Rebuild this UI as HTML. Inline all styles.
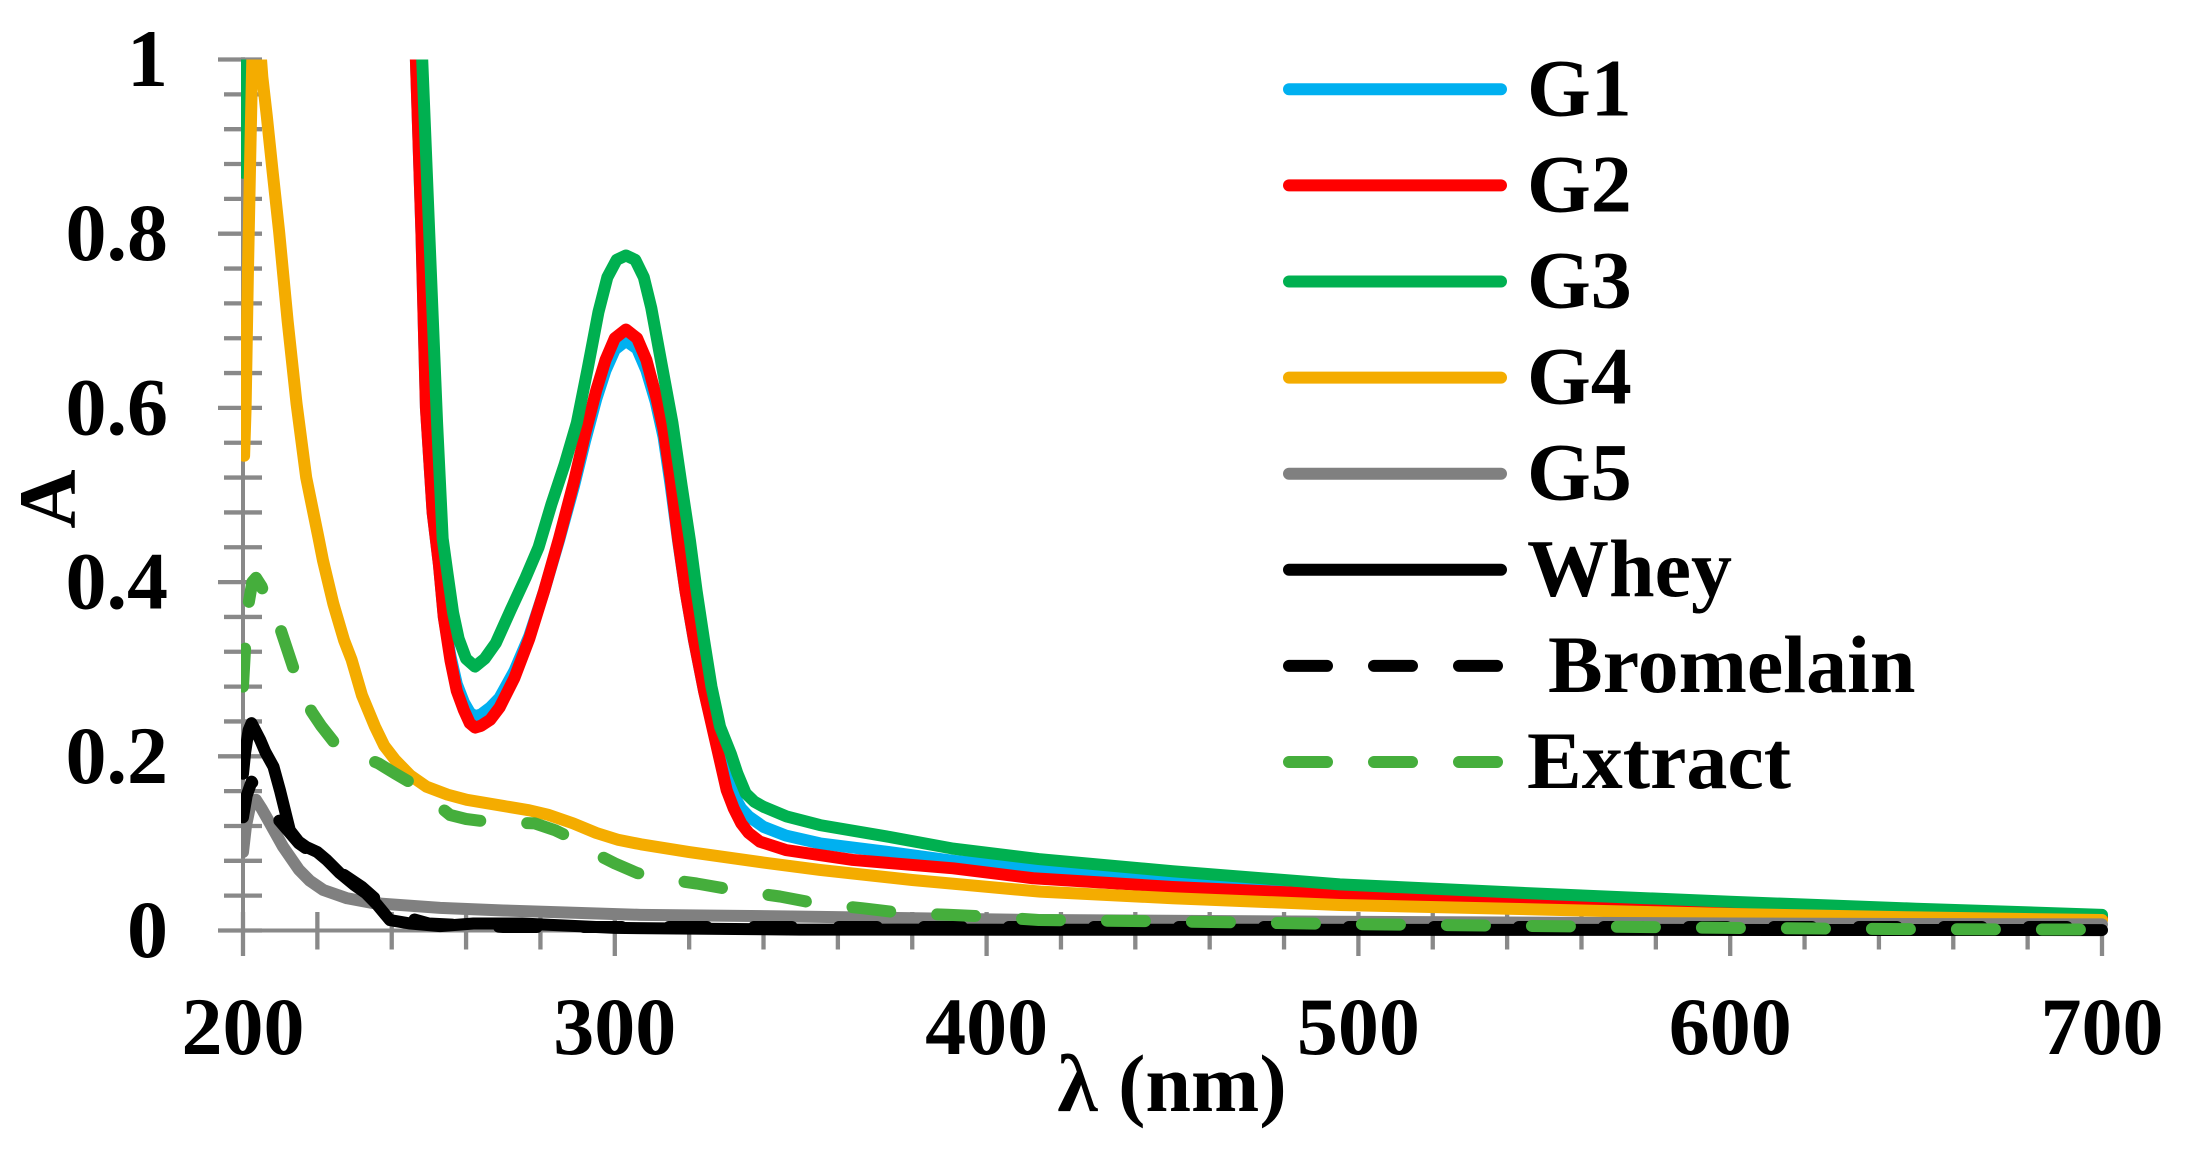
<!DOCTYPE html>
<html>
<head>
<meta charset="utf-8">
<style>
html,body{margin:0;padding:0;background:#fff;}
svg{display:block}
text{font-family:"Liberation Serif","Times New Roman",serif;font-weight:bold;font-size:82px;fill:#000;}
</style>
</head>
<body>
<svg width="2187" height="1157" viewBox="0 0 2187 1157" xmlns="http://www.w3.org/2000/svg">
<rect width="2187" height="1157" fill="#fff"/>
<defs>
<clipPath id="c"><rect x="241" y="59.5" width="1946" height="1098"/></clipPath>
</defs>

<!-- ticks -->
<path fill="none" stroke="#898989" stroke-width="4.3" d="
M218,930.5H262 M218,756.3H262 M218,582.1H262 M218,407.9H262 M218,233.7H262 M218,59.5H262
M224,895.66H262 M224,860.82H262 M224,825.98H262 M224,791.14H262
M224,721.46H262 M224,686.62H262 M224,651.78H262 M224,616.94H262
M224,547.26H262 M224,512.42H262 M224,477.58H262 M224,442.74H262
M224,373.06H262 M224,338.22H262 M224,303.38H262 M224,268.54H262
M224,198.86H262 M224,164.02H262 M224,129.18H262 M224,94.34H262
M243,912V956 M614.8,912V956 M986.6,912V956 M1358.4,912V956 M1730.2,912V956 M2102,912V956
M317.36,912V949.5 M391.72,912V949.5 M466.08,912V949.5 M540.44,912V949.5
M689.16,912V949.5 M763.52,912V949.5 M837.88,912V949.5 M912.24,912V949.5
M1060.96,912V949.5 M1135.32,912V949.5 M1209.68,912V949.5 M1284.04,912V949.5
M1432.76,912V949.5 M1507.12,912V949.5 M1581.48,912V949.5 M1655.84,912V949.5
M1804.56,912V949.5 M1878.92,912V949.5 M1953.28,912V949.5 M2027.64,912V949.5"/>
<!-- axes -->
<path fill="none" stroke="#898989" stroke-width="4" d="M243,57.3V956 M218,930.5H2104"/>

<g clip-path="url(#c)">
<g transform="matrix(3.718 0 0 -871 -500.6 930.5)" fill="none" stroke-width="12" stroke-linejoin="round" stroke-linecap="round">
<!-- G1 -->
<path vector-effect="non-scaling-stroke" stroke="#00B0F0" d="M240,1.3 L245,1.3 L246,1.08 L246.5,1.0 L248,0.8 L249.2,0.6 L251,0.48 L252.7,0.42 L254,0.36 L255.8,0.315 L257.5,0.283 L259.4,0.262 L261,0.25 L262.4,0.246 L264,0.248 L266.5,0.256 L269,0.267 L273,0.298 L277,0.338 L281,0.39 L285,0.448 L289,0.51 L292,0.562 L295,0.61 L297.5,0.643 L300,0.667 L303,0.677 L306,0.668 L308.5,0.643 L311,0.607 L313.1,0.567 L315,0.512 L317,0.448 L319,0.39 L321.3,0.333 L324,0.275 L327,0.222 L330.1,0.175 L332,0.155 L334,0.14 L336,0.131 L340,0.119 L346,0.109 L355.2,0.1 L373,0.0905 L391,0.08 L412.5,0.0714 L450,0.058 L495,0.0465 L550,0.037 L600,0.029 L650,0.022 L700,0.016"/>
<!-- G2 -->
<path vector-effect="non-scaling-stroke" stroke="#FF0000" d="M240,1.3 L245,1.3 L246,1.08 L246.5,1.0 L248,0.8 L249.2,0.6 L251,0.48 L252.7,0.42 L254,0.36 L255.8,0.31 L257.5,0.275 L259.4,0.253 L261,0.238 L262.4,0.233 L264,0.235 L266.5,0.242 L269,0.256 L273,0.29 L277,0.335 L281,0.39 L285,0.45 L289,0.515 L292,0.57 L295,0.62 L297.5,0.655 L300,0.68 L303,0.69 L306,0.68 L308.5,0.655 L311,0.615 L313.1,0.575 L315,0.52 L317,0.45 L319,0.39 L321.3,0.3335 L324,0.275 L327,0.219 L330.1,0.161 L332,0.14 L334,0.123 L336,0.112 L339,0.102 L346,0.0924 L364,0.081 L391,0.0714 L412.5,0.06 L450,0.05 L495,0.041 L550,0.033 L600,0.026 L650,0.02 L700,0.015"/>
<!-- G3 -->
<path vector-effect="non-scaling-stroke" stroke="#00B050" d="M200,0.87 L200.8,1.2 L245,1.3 L247.5,1.08 L248.2,1.0 L250.1,0.80 L252.2,0.583 L253.7,0.45 L255,0.41 L256.5,0.365 L258,0.335 L260,0.312 L262.4,0.303 L265,0.312 L268,0.33 L272,0.368 L276,0.405 L279.5,0.44 L283,0.49 L286.5,0.535 L289.8,0.583 L292.7,0.645 L295.6,0.71 L298,0.75 L300.5,0.77 L303,0.775 L305.5,0.77 L307.8,0.75 L309.8,0.715 L312.6,0.65 L315.5,0.583 L318,0.51 L320.2,0.448 L322,0.39 L324,0.3335 L326,0.28 L328.3,0.234 L331.2,0.203 L333,0.18 L335.2,0.1575 L337.5,0.148 L340,0.142 L346.2,0.131 L355.2,0.121 L373.1,0.108 L391,0.094 L414,0.082 L450,0.068 L495,0.053 L550,0.042 L600,0.033 L650,0.025 L700,0.018"/>
<!-- G4 -->
<path vector-effect="non-scaling-stroke" stroke="#F4AC00" d="M200.3,0.545 L200.7,0.6 L201.3,0.75 L202,0.9 L202.5,1.0 L203.5,1.08 L204.5,1.02 L205.2,0.98 L206.4,0.935 L208,0.87 L209.7,0.803 L212,0.7 L214.4,0.605 L217,0.52 L220.3,0.451 L221.5,0.425 L224.3,0.375 L227.2,0.333 L229.2,0.311 L232,0.27 L235.5,0.234 L238,0.212 L240.9,0.196 L245,0.178 L249.4,0.165 L255,0.156 L260.2,0.15 L270,0.143 L277,0.138 L282,0.133 L288.8,0.123 L295,0.112 L301,0.104 L307,0.099 L320,0.09 L340,0.078 L355.2,0.0695 L380,0.058 L414.4,0.0446 L450,0.037 L495,0.0293 L550,0.024 L600,0.019 L650,0.015 L700,0.012"/>
<!-- G5 -->
<path vector-effect="non-scaling-stroke" stroke="#808080" d="M200,0.09 L200.8,0.12 L202,0.145 L203.5,0.15 L205,0.14 L207,0.125 L210.8,0.096 L215,0.07 L218,0.057 L221.6,0.0465 L228,0.037 L235,0.0315 L253,0.026 L270,0.023 L306.8,0.018 L350,0.016 L414,0.012 L495,0.01 L600,0.008 L700,0.007"/>
<!-- Whey -->
<path vector-effect="non-scaling-stroke" stroke="#000000" d="M200,0.18 L200.6,0.205 L201.5,0.23 L202.3,0.238 L203.5,0.228 L204.6,0.219 L206,0.205 L208.2,0.188 L210,0.16 L212.6,0.115 L215,0.102 L217,0.096 L220,0.09 L222.5,0.081 L226,0.066 L230,0.052 L233,0.043 L236,0.03 L239.5,0.012 L245,0.008 L253,0.005 L262,0.008 L275,0.008 L300,0.003 L350,0.001 L700,0.0005"/>
</g>
<!-- Bromelain (dashed) -->
<path fill="none" stroke="#000" stroke-width="12" stroke-linecap="round" stroke-linejoin="round" stroke-dasharray="38 47" d="M243,817.3 L246.7,795.5 L251.6,781.6 L257.9,791.1 L265.3,805.1 L280.2,821.6 L298.8,843.4 L317.4,856.5 L336,869.5 L362,887 L391.7,913.1 L428.9,923.5 L503.3,927 L614.8,927 L986.6,927 L2102,927"/>
<!-- Extract (dashed) -->
<path fill="none" stroke="#45AE3C" stroke-width="12" stroke-linecap="round" stroke-linejoin="round" stroke-dasharray="38 47" d="M243,686.6 L244.9,651.8 L247.8,608.2 L252.3,582.1 L256,577.8 L261.6,586.5 L269,608.2 L280.2,628.3 L293.2,667.5 L302.5,695.3 L311.8,711.9 L321.1,725.8 L334.8,743.2 L354.5,753.7 L378.3,763.3 L395.4,773.7 L411.8,783.3 L428.9,798.1 L450.1,815 L466.1,819 L486.5,821.6 L510.7,822.5 L534.9,823.4 L555.3,830.3 L571.7,838.2 L592.5,852.1 L614.8,863.4 L637.1,873 L659.4,878.2 L696.6,883.5 L733.8,890 L779.9,896.5 L816.7,903.5 L863.2,908.3 L902.9,913.1 L947.9,914.8 L988.1,916.6 L1038.7,920 L1172.5,921.4 L1339.8,924 L1544.3,926.1 L1730.2,927.9 L1916.1,929.2 L2102,929.6"/>
</g>

<!-- Y tick labels -->
<text x="168" y="86" text-anchor="end">1</text>
<text x="168" y="260.2" text-anchor="end">0.8</text>
<text x="168" y="434.4" text-anchor="end">0.6</text>
<text x="168" y="608.6" text-anchor="end">0.4</text>
<text x="168" y="782.8" text-anchor="end">0.2</text>
<text x="168" y="957" text-anchor="end">0</text>

<!-- X tick labels -->
<text x="243" y="1054" text-anchor="middle">200</text>
<text x="614.8" y="1054" text-anchor="middle">300</text>
<text x="986.6" y="1054" text-anchor="middle">400</text>
<text x="1358.4" y="1054" text-anchor="middle">500</text>
<text x="1730.2" y="1054" text-anchor="middle">600</text>
<text x="2102" y="1054" text-anchor="middle">700</text>

<!-- Axis titles -->
<text x="1172" y="1111" text-anchor="middle">λ (nm)</text>
<text transform="translate(75,499) rotate(-90)" text-anchor="middle">A</text>

<!-- Legend -->
<g fill="none" stroke-width="12" stroke-linecap="round">
<path stroke="#00B0F0" d="M1289,89.3H1501"/>
<path stroke="#FF0000" d="M1289,185.4H1501"/>
<path stroke="#00B050" d="M1289,281.5H1501"/>
<path stroke="#F4AC00" d="M1289,377.6H1501"/>
<path stroke="#808080" d="M1289,473.7H1501"/>
<path stroke="#000000" d="M1289,569.8H1501"/>
<path stroke="#000000" stroke-dasharray="38 47" d="M1289,665.9H1501"/>
<path stroke="#45AE3C" stroke-dasharray="38 47" d="M1289,762H1501"/>
</g>
<text x="1527" y="115.3">G1</text>
<text x="1527" y="211.4">G2</text>
<text x="1527" y="307.5">G3</text>
<text x="1527" y="403.6">G4</text>
<text x="1527" y="499.7">G5</text>
<text x="1527" y="595.8">Whey</text>
<text x="1548" y="691.9">Bromelain</text>
<text x="1527" y="788">Extract</text>
</svg>
</body>
</html>
